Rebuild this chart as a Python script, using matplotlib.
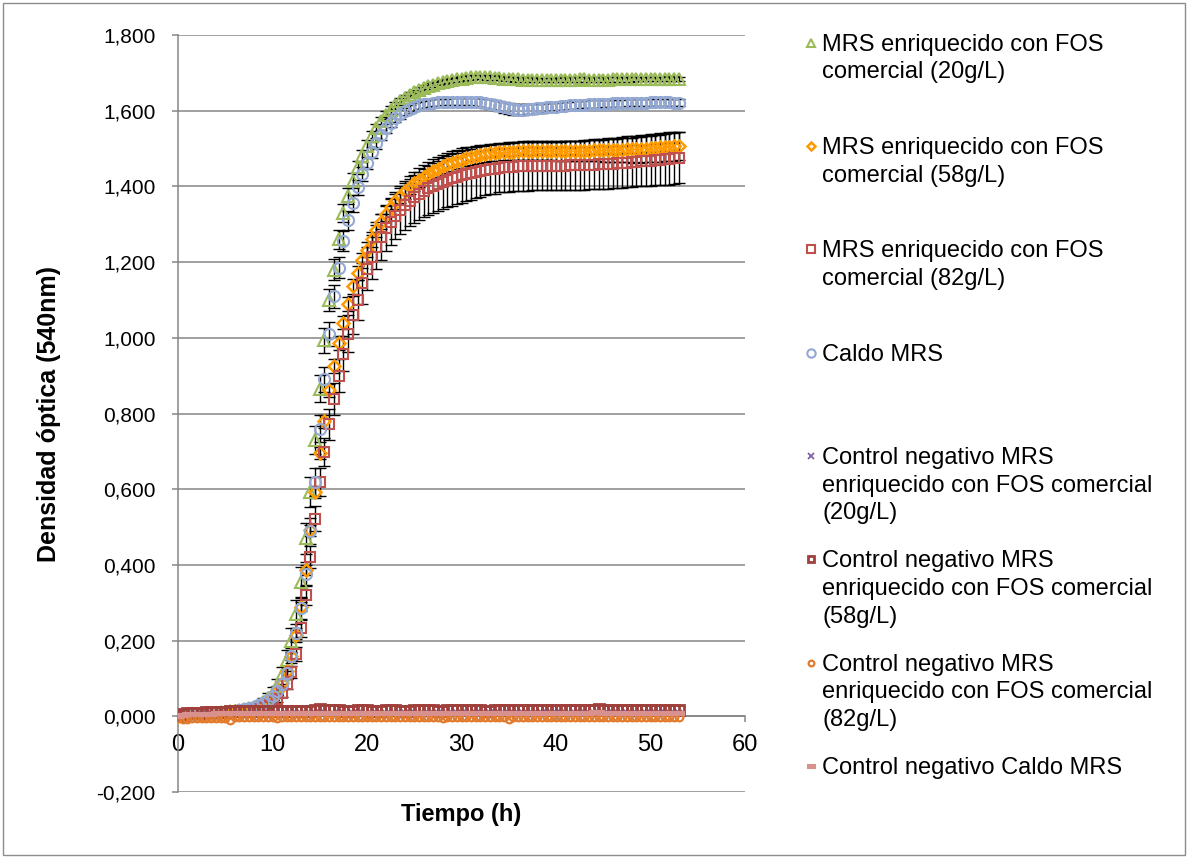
import numpy as np
import matplotlib
matplotlib.use("Agg")
import matplotlib.pyplot as plt
from matplotlib.lines import Line2D
from matplotlib.patches import Rectangle
from matplotlib.ticker import FuncFormatter

plt.rcParams['font.family'] = ['Liberation Sans', 'DejaVu Sans']

# muestreo cada 30 min, 0 - 53 h
step_h = 0.5
tiempo = np.arange(0, 53 + step_h / 2, step_h)

# MRS + FOS comercial 20 g/L
fos20 = [
    0.000, 0.003, 0.005, 0.006, 0.007, 0.008, 0.009, 0.010, 0.010, 0.011,
    0.012, 0.013, 0.014, 0.016, 0.018, 0.021, 0.025, 0.031, 0.039, 0.049,
    0.062, 0.080, 0.108, 0.148, 0.200, 0.270, 0.355, 0.470, 0.593, 0.730,
    0.866, 0.993, 1.100, 1.180, 1.260, 1.330, 1.375, 1.415, 1.450, 1.480,
    1.508, 1.532, 1.553, 1.572, 1.588, 1.602, 1.614, 1.625, 1.634, 1.642,
    1.649, 1.655, 1.660, 1.665, 1.669, 1.673, 1.676, 1.679, 1.681, 1.683,
    1.685, 1.687, 1.688, 1.689, 1.689, 1.688, 1.688, 1.687, 1.686, 1.685,
    1.684, 1.683, 1.683, 1.682, 1.682, 1.682, 1.681, 1.681, 1.681, 1.681,
    1.681, 1.682, 1.682, 1.682, 1.682, 1.683, 1.683, 1.682, 1.682, 1.682,
    1.682, 1.682, 1.683, 1.683, 1.683, 1.683, 1.683, 1.684, 1.684, 1.684,
    1.684, 1.684, 1.684, 1.684, 1.685, 1.685, 1.684]
fos20_sd = [
    0.002, 0.002, 0.002, 0.002, 0.002, 0.002, 0.002, 0.002, 0.002, 0.002,
    0.002, 0.002, 0.003, 0.003, 0.004, 0.005, 0.006, 0.008, 0.010, 0.012,
    0.015, 0.018, 0.022, 0.027, 0.032, 0.036, 0.040, 0.042, 0.040, 0.038,
    0.035, 0.032, 0.030, 0.028, 0.026, 0.024, 0.022, 0.020, 0.018, 0.016,
    0.015, 0.014, 0.013, 0.012, 0.011, 0.010, 0.009, 0.009, 0.008, 0.008,
    0.007, 0.007, 0.007, 0.007, 0.006, 0.006, 0.006, 0.006, 0.006, 0.006,
    0.006, 0.006, 0.006, 0.006, 0.006, 0.006, 0.006, 0.006, 0.006, 0.006,
    0.006, 0.006, 0.006, 0.006, 0.006, 0.006, 0.006, 0.006, 0.006, 0.006,
    0.006, 0.006, 0.006, 0.006, 0.006, 0.006, 0.006, 0.006, 0.006, 0.006,
    0.006, 0.006, 0.006, 0.006, 0.006, 0.006, 0.006, 0.006, 0.006, 0.006,
    0.006, 0.006, 0.006, 0.006, 0.006, 0.006, 0.006]

# MRS + FOS comercial 58 g/L
fos58 = [
    0.000, 0.002, 0.004, 0.005, 0.006, 0.007, 0.008, 0.009, 0.009, 0.010,
    0.011, 0.012, 0.013, 0.014, 0.016, 0.018, 0.021, 0.025, 0.030, 0.038,
    0.050, 0.066, 0.088, 0.120, 0.160, 0.215, 0.290, 0.386, 0.491, 0.593,
    0.696, 0.780, 0.861, 0.925, 0.986, 1.040, 1.090, 1.136, 1.172, 1.205,
    1.233, 1.260, 1.286, 1.307, 1.328, 1.346, 1.361, 1.375, 1.388, 1.399,
    1.409, 1.418, 1.426, 1.434, 1.441, 1.447, 1.453, 1.458, 1.463, 1.467,
    1.471, 1.475, 1.478, 1.481, 1.484, 1.486, 1.488, 1.489, 1.490, 1.491,
    1.492, 1.492, 1.493, 1.493, 1.493, 1.493, 1.493, 1.493, 1.493, 1.493,
    1.493, 1.493, 1.493, 1.494, 1.494, 1.494, 1.494, 1.494, 1.495, 1.495,
    1.495, 1.496, 1.496, 1.497, 1.497, 1.498, 1.498, 1.499, 1.499, 1.500,
    1.501, 1.502, 1.503, 1.504, 1.505, 1.506, 1.507]
fos58_sd = [
    0.002, 0.002, 0.002, 0.002, 0.002, 0.002, 0.002, 0.002, 0.002, 0.002,
    0.002, 0.002, 0.002, 0.003, 0.003, 0.003, 0.004, 0.004, 0.005, 0.006,
    0.007, 0.008, 0.009, 0.010, 0.011, 0.012, 0.013, 0.014, 0.015, 0.016,
    0.016, 0.017, 0.017, 0.018, 0.018, 0.018, 0.019, 0.019, 0.019, 0.020,
    0.020, 0.020, 0.020, 0.020, 0.020, 0.020, 0.020, 0.020, 0.020, 0.020,
    0.020, 0.020, 0.021, 0.021, 0.021, 0.021, 0.022, 0.022, 0.022, 0.022,
    0.022, 0.022, 0.022, 0.022, 0.022, 0.022, 0.022, 0.022, 0.022, 0.022,
    0.022, 0.022, 0.023, 0.023, 0.023, 0.023, 0.024, 0.024, 0.024, 0.024,
    0.025, 0.025, 0.026, 0.026, 0.027, 0.027, 0.028, 0.028, 0.029, 0.029,
    0.030, 0.031, 0.032, 0.032, 0.033, 0.034, 0.035, 0.035, 0.036, 0.036,
    0.037, 0.037, 0.038, 0.038, 0.038, 0.038, 0.038]

# MRS + FOS comercial 82 g/L
fos82 = [
    0.000, 0.002, 0.003, 0.004, 0.005, 0.006, 0.007, 0.008, 0.008, 0.009,
    0.010, 0.011, 0.012, 0.013, 0.014, 0.016, 0.018, 0.021, 0.025, 0.030,
    0.037, 0.047, 0.062, 0.085, 0.118, 0.165, 0.232, 0.320, 0.421, 0.522,
    0.619, 0.698, 0.771, 0.839, 0.900, 0.958, 1.011, 1.060, 1.100, 1.144,
    1.183, 1.213, 1.240, 1.266, 1.290, 1.307, 1.323, 1.337, 1.350, 1.361,
    1.371, 1.380, 1.388, 1.395, 1.401, 1.407, 1.412, 1.417, 1.421, 1.425,
    1.429, 1.432, 1.435, 1.438, 1.441, 1.443, 1.445, 1.447, 1.449, 1.450,
    1.451, 1.452, 1.453, 1.454, 1.454, 1.455, 1.455, 1.455, 1.455, 1.455,
    1.455, 1.455, 1.455, 1.456, 1.456, 1.456, 1.456, 1.457, 1.457, 1.458,
    1.458, 1.459, 1.460, 1.461, 1.462, 1.463, 1.464, 1.465, 1.466, 1.467,
    1.468, 1.469, 1.470, 1.472, 1.473, 1.474, 1.476]
fos82_sd = [
    0.002, 0.002, 0.002, 0.002, 0.002, 0.002, 0.002, 0.002, 0.002, 0.002,
    0.002, 0.002, 0.003, 0.003, 0.003, 0.004, 0.004, 0.005, 0.006, 0.007,
    0.008, 0.009, 0.011, 0.013, 0.016, 0.019, 0.022, 0.026, 0.030, 0.033,
    0.036, 0.038, 0.040, 0.042, 0.044, 0.046, 0.048, 0.050, 0.052, 0.054,
    0.056, 0.058, 0.059, 0.060, 0.061, 0.062, 0.063, 0.064, 0.065, 0.066,
    0.067, 0.068, 0.069, 0.070, 0.071, 0.071, 0.072, 0.072, 0.072, 0.072,
    0.072, 0.071, 0.070, 0.069, 0.068, 0.067, 0.066, 0.066, 0.065, 0.065,
    0.065, 0.065, 0.065, 0.065, 0.065, 0.065, 0.065, 0.065, 0.065, 0.065,
    0.065, 0.065, 0.065, 0.065, 0.065, 0.065, 0.065, 0.065, 0.065, 0.065,
    0.065, 0.065, 0.065, 0.065, 0.065, 0.065, 0.065, 0.065, 0.065, 0.065,
    0.066, 0.066, 0.067, 0.067, 0.068, 0.068, 0.068]

# Caldo MRS
caldo = [
    0.000, 0.003, 0.005, 0.006, 0.007, 0.008, 0.009, 0.010, 0.010, 0.011,
    0.012, 0.013, 0.014, 0.016, 0.018, 0.021, 0.025, 0.030, 0.036, 0.044,
    0.054, 0.067, 0.085, 0.115, 0.160, 0.220, 0.285, 0.375, 0.490, 0.620,
    0.760, 0.890, 1.011, 1.110, 1.185, 1.255, 1.310, 1.355, 1.398, 1.432,
    1.462, 1.490, 1.514, 1.535, 1.553, 1.568, 1.580, 1.590, 1.598, 1.605,
    1.610, 1.614, 1.617, 1.619, 1.621, 1.622, 1.623, 1.623, 1.624, 1.624,
    1.624, 1.624, 1.624, 1.623, 1.622, 1.620, 1.618, 1.615, 1.612, 1.609,
    1.606, 1.604, 1.603, 1.603, 1.604, 1.605, 1.606, 1.607, 1.609, 1.610,
    1.611, 1.612, 1.613, 1.614, 1.615, 1.616, 1.616, 1.617, 1.618, 1.618,
    1.619, 1.619, 1.620, 1.620, 1.620, 1.621, 1.621, 1.621, 1.621, 1.621,
    1.622, 1.622, 1.622, 1.622, 1.622, 1.621, 1.621]
caldo_sd = [
    0.002, 0.002, 0.002, 0.002, 0.002, 0.002, 0.002, 0.002, 0.002, 0.002,
    0.002, 0.002, 0.003, 0.003, 0.004, 0.004, 0.005, 0.006, 0.007, 0.008,
    0.010, 0.012, 0.014, 0.017, 0.020, 0.024, 0.028, 0.032, 0.035, 0.037,
    0.036, 0.034, 0.032, 0.030, 0.028, 0.026, 0.024, 0.022, 0.020, 0.018,
    0.016, 0.015, 0.014, 0.013, 0.012, 0.012, 0.011, 0.011, 0.010, 0.010,
    0.010, 0.010, 0.009, 0.009, 0.009, 0.009, 0.009, 0.009, 0.009, 0.009,
    0.009, 0.009, 0.010, 0.010, 0.011, 0.012, 0.013, 0.013, 0.014, 0.014,
    0.015, 0.015, 0.015, 0.014, 0.014, 0.013, 0.012, 0.012, 0.011, 0.011,
    0.010, 0.010, 0.010, 0.010, 0.010, 0.010, 0.010, 0.010, 0.010, 0.010,
    0.010, 0.009, 0.009, 0.009, 0.009, 0.009, 0.009, 0.009, 0.009, 0.009,
    0.009, 0.009, 0.009, 0.009, 0.009, 0.009, 0.009]

# controles negativos (sin inocular)
ctrl20 = [
    0.000, 0.002, 0.003, 0.004, 0.004, 0.005, 0.005, 0.005, 0.006, 0.006,
    0.006, 0.005, 0.006, 0.006, 0.007, 0.006, 0.007, 0.007, 0.006, 0.007,
    0.007, 0.007, 0.006, 0.007, 0.007, 0.008, 0.007, 0.007, 0.007, 0.008,
    0.009, 0.008, 0.007, 0.007, 0.008, 0.007, 0.007, 0.008, 0.008, 0.007,
    0.007, 0.007, 0.008, 0.008, 0.007, 0.007, 0.007, 0.008, 0.008, 0.008,
    0.008, 0.007, 0.007, 0.008, 0.008, 0.008, 0.007, 0.007, 0.008, 0.008,
    0.008, 0.008, 0.007, 0.008, 0.008, 0.009, 0.008, 0.008, 0.008, 0.007,
    0.008, 0.008, 0.008, 0.008, 0.007, 0.008, 0.008, 0.009, 0.008, 0.008,
    0.008, 0.008, 0.008, 0.007, 0.008, 0.008, 0.008, 0.008, 0.009, 0.008,
    0.008, 0.008, 0.008, 0.008, 0.008, 0.008, 0.007, 0.008, 0.008, 0.008,
    0.008, 0.008, 0.008, 0.008, 0.008, 0.008, 0.008]
ctrl58 = [
    0.002, 0.006, 0.008, 0.009, 0.010, 0.010, 0.011, 0.011, 0.012, 0.012,
    0.012, 0.013, 0.015, 0.014, 0.014, 0.014, 0.015, 0.015, 0.015, 0.015,
    0.015, 0.014, 0.014, 0.014, 0.015, 0.015, 0.015, 0.015, 0.015, 0.016,
    0.018, 0.017, 0.016, 0.016, 0.016, 0.015, 0.015, 0.015, 0.016, 0.016,
    0.016, 0.015, 0.015, 0.015, 0.016, 0.016, 0.016, 0.015, 0.015, 0.015,
    0.016, 0.017, 0.017, 0.016, 0.016, 0.015, 0.015, 0.016, 0.016, 0.016,
    0.016, 0.017, 0.016, 0.016, 0.016, 0.015, 0.015, 0.016, 0.016, 0.016,
    0.017, 0.017, 0.016, 0.016, 0.016, 0.016, 0.017, 0.017, 0.016, 0.016,
    0.016, 0.016, 0.017, 0.017, 0.017, 0.016, 0.016, 0.016, 0.017, 0.018,
    0.017, 0.017, 0.016, 0.016, 0.017, 0.017, 0.017, 0.016, 0.016, 0.017,
    0.017, 0.017, 0.017, 0.017, 0.016, 0.017, 0.017]
ctrl82 = [
    -0.004, -0.006, -0.006, -0.005, -0.005, -0.005, -0.004, -0.004, -0.004, -0.004,
    -0.005, -0.010, -0.003, -0.003, -0.003, -0.003, -0.002, -0.002, -0.003, -0.003,
    -0.003, -0.004, -0.003, -0.003, -0.002, -0.003, -0.003, -0.003, -0.003, -0.002,
    -0.001, -0.002, -0.002, -0.003, -0.003, -0.003, -0.003, -0.002, -0.002, -0.003,
    -0.003, -0.003, -0.002, -0.002, -0.002, -0.003, -0.003, -0.003, -0.002, -0.002,
    -0.002, -0.001, -0.002, -0.003, -0.003, -0.003, -0.004, -0.003, -0.002, -0.002,
    -0.002, -0.003, -0.003, -0.003, -0.002, -0.002, -0.002, -0.003, -0.003, -0.003,
    -0.006, -0.002, -0.002, -0.002, -0.002, -0.003, -0.003, -0.003, -0.003, -0.002,
    -0.002, -0.002, -0.003, -0.003, -0.003, -0.002, -0.002, -0.002, -0.003, -0.002,
    -0.002, -0.002, -0.003, -0.003, -0.002, -0.002, -0.002, -0.003, -0.003, -0.003,
    -0.002, -0.002, -0.002, -0.002, -0.002, -0.003, -0.003]
ctrl_caldo = [
    0.000, 0.004, 0.005, 0.006, 0.006, 0.007, 0.007, 0.007, 0.008, 0.008,
    0.008, 0.008, 0.009, 0.009, 0.009, 0.008, 0.009, 0.009, 0.009, 0.008,
    0.009, 0.009, 0.009, 0.009, 0.009, 0.010, 0.009, 0.009, 0.009, 0.009,
    0.010, 0.010, 0.009, 0.009, 0.009, 0.009, 0.009, 0.009, 0.010, 0.010,
    0.009, 0.009, 0.009, 0.009, 0.010, 0.010, 0.010, 0.009, 0.009, 0.009,
    0.010, 0.010, 0.010, 0.010, 0.009, 0.009, 0.009, 0.010, 0.010, 0.010,
    0.010, 0.010, 0.009, 0.009, 0.010, 0.010, 0.010, 0.010, 0.010, 0.009,
    0.010, 0.010, 0.010, 0.010, 0.010, 0.010, 0.010, 0.010, 0.010, 0.010,
    0.010, 0.010, 0.010, 0.010, 0.010, 0.010, 0.010, 0.010, 0.011, 0.011,
    0.010, 0.010, 0.010, 0.010, 0.010, 0.010, 0.010, 0.010, 0.010, 0.010,
    0.010, 0.010, 0.010, 0.010, 0.010, 0.010, 0.010]

labels = [
    ["MRS enriquecido con FOS", "comercial (20g/L)"],
    ["MRS enriquecido con FOS", "comercial (58g/L)"],
    ["MRS enriquecido con FOS", "comercial (82g/L)"],
    ["Caldo MRS"],
    ["Control negativo MRS", "enriquecido con FOS comercial", "(20g/L)"],
    ["Control negativo MRS", "enriquecido con FOS comercial", "(58g/L)"],
    ["Control negativo MRS", "enriquecido con FOS comercial", "(82g/L)"],
    ["Control negativo Caldo MRS"],
]

rect_marker = [(-1, -0.5), (1, -0.5), (1, 0.5), (-1, 0.5), (-1, -0.5)]
styles = [
    dict(marker="^", ms=8.5, mec="#9BBB59", mfc="none", mew=1.5),
    dict(marker="D", ms=5.8, mec="#FF9A00", mfc="none", mew=1.8),
    dict(marker="s", ms=7.6, mec="#C0504D", mfc="none", mew=1.5),
    dict(marker="o", ms=8.0, mec="#93A9D3", mfc="none", mew=1.5),
    dict(marker="x", ms=5.0, mec="#7E62A0", mfc="none", mew=1.3),
    dict(marker="s", ms=6.5, mec="#A0403C", mfc="none", mew=2.0),
    dict(marker="o", ms=5.5, mec="#E27B2E", mfc="none", mew=1.6),
    dict(marker=rect_marker, ms=7.0, mec="#D9918E", mfc="#D9918E", mew=0.8),
]

fig = plt.figure(figsize=(11.88, 8.58), dpi=100)
ax = fig.add_axes([178 / 1188, 1 - 792 / 858, (745 - 178) / 1188, (792 - 35) / 858])

growth = [(fos20, fos20_sd), (fos58, fos58_sd), (fos82, fos82_sd), (caldo, caldo_sd)]
for (vals, sd), st in zip(growth, styles[:4]):
    ax.errorbar(tiempo, vals, yerr=sd, fmt="none", ecolor="black",
                elinewidth=1.0, capsize=4, capthick=1.0, zorder=2.5)
    ax.plot(tiempo, vals, linestyle="none", zorder=3, **st)

for vals, st in zip([ctrl20, ctrl58, ctrl82, ctrl_caldo], styles[4:]):
    ax.plot(tiempo, vals, linestyle="none", zorder=5, **st)

grey = "#868686"
ax.set_xlim(0, 60)
ax.set_ylim(-0.2, 1.8)
ax.set_xticks(np.arange(0, 61, 10))
ax.set_yticks(np.arange(-0.2, 1.81, 0.2))
ax.yaxis.set_major_formatter(FuncFormatter(lambda v, p: f"{v:.3f}".replace(".", ",").replace("-0,000", "0,000")))
ax.grid(axis="y", color=grey, linewidth=1.1)
ax.set_axisbelow(True)
for s in ["top", "right"]:
    ax.spines[s].set_visible(False)
ax.spines["bottom"].set_position(("data", 0))
for s in ["left", "bottom"]:
    ax.spines[s].set_color(grey)
    ax.spines[s].set_linewidth(1.1)
ax.tick_params(axis="x", length=4, width=1.1, color=grey, pad=9, labelsize=17)
ax.tick_params(axis="y", length=4, width=1.1, color=grey, pad=12, labelsize=15)

ax.set_xlabel("Tiempo (h)", fontsize=17, fontweight="bold", va="center")
ax.xaxis.set_label_coords(0.5, (792 - 815) / 757)
ax.set_ylabel("Densidad óptica (540nm)", fontsize=18, fontweight="bold", va="center")
ax.yaxis.set_label_coords((49 - 178) / 567, 0.5)

# leyenda a la derecha (Excel)
for i, (lines, st) in enumerate(zip(labels, styles)):
    base = 50.7 + i * 103.35
    for j, txt in enumerate(lines):
        fig.text(822.5 / 1188, 1 - (base + j * 27.6) / 858, txt,
                 fontsize=17, ha="left", va="baseline")
    fig.add_artist(Line2D([811 / 1188], [1 - (base - 8) / 858],
                          transform=fig.transFigure, linestyle="none",
                          **dict(st, ms=st["ms"] * 0.75)))

fig.add_artist(Rectangle((3 / 1188, 3 / 858), 1182 / 1188, 852 / 858,
                         transform=fig.transFigure, fill=False,
                         edgecolor="#8C8C8C", linewidth=1.0))

fig.savefig("out.png", dpi=100, facecolor="white")
